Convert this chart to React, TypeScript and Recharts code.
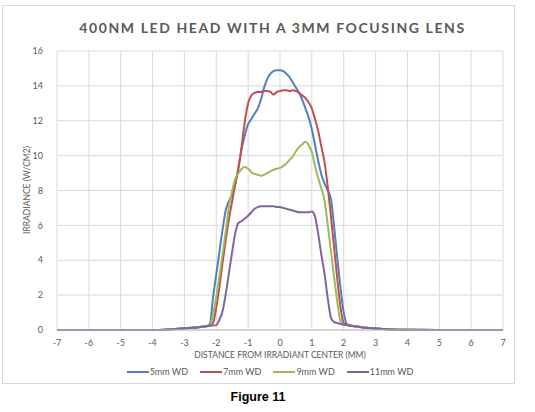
import { LineChart, Line, XAxis, YAxis, CartesianGrid } from 'recharts'

// distance from irradiant centre (mm)
const distances = [
    -7, -6, -5, -4, -3.5, -3, -2.6, -2.4,
    -2.3, -2.2, -2.1, -2.0, -1.9, -1.8, -1.7, -1.6, -1.5, -1.4, -1.3, -1.2, -1.1, -1.0,
    -0.9, -0.8, -0.7, -0.6, -0.5, -0.4, -0.3, -0.2, -0.1, 0,
    0.1, 0.2, 0.3, 0.4, 0.5, 0.6, 0.7, 0.8, 0.9, 1.0,
    1.1, 1.2, 1.3, 1.4, 1.5, 1.6, 1.7, 1.8, 1.9, 2.0, 2.1, 2.2,
    2.4, 2.6, 3, 3.5, 4, 5, 6, 7,
]

// irradiance (W/cm2) per working distance
const wd5 = [
    0, 0, 0, 0, 0.03, 0.1, 0.16, 0.2,
    0.22, 0.35, 1.9, 3.2, 4.5, 5.8, 6.9, 7.4, 7.8, 8.4, 9.4, 10.4, 11.2, 11.8,
    12.1, 12.4, 12.7, 13.2, 13.9, 14.4, 14.7, 14.85, 14.9, 14.9,
    14.85, 14.7, 14.5, 14.2, 13.9, 13.6, 13.2, 12.7, 12.2, 11.5,
    10.6, 9.7, 8.9, 8.4, 8.0, 7.5, 5.9, 4.1, 2.4, 1.0, 0.35, 0.28,
    0.2, 0.15, 0.08, 0.03, 0.01, 0, 0, 0,
]
const wd7 = [
    0, 0, 0, 0, 0.03, 0.1, 0.15, 0.2,
    0.22, 0.25, 0.4, 1.3, 2.5, 3.9, 5.2, 6.4, 7.4, 8.4, 9.3, 10.6, 12.0, 13.0,
    13.45, 13.6, 13.65, 13.65, 13.7, 13.7, 13.65, 13.5, 13.65, 13.7,
    13.75, 13.75, 13.7, 13.75, 13.7, 13.6, 13.45, 13.3, 13.05, 12.7,
    12.1, 11.4, 10.5, 9.6, 8.2, 6.5, 4.7, 2.9, 1.3, 0.4, 0.3, 0.26,
    0.2, 0.15, 0.08, 0.03, 0.01, 0, 0, 0,
]
const wd9 = [
    0, 0, 0, 0, 0.03, 0.1, 0.15, 0.2,
    0.22, 0.28, 0.9, 1.9, 3.1, 4.4, 5.7, 7.1, 8.0, 8.7, 9.0, 9.25, 9.35, 9.25,
    9.05, 8.95, 8.9, 8.85, 8.9, 9.0, 9.1, 9.2, 9.25, 9.3,
    9.4, 9.55, 9.75, 9.95, 10.25, 10.5, 10.65, 10.8, 10.6, 10.2,
    9.4, 8.7, 8.1, 7.4, 6.0, 4.5, 3.0, 1.6, 0.5, 0.3, 0.28, 0.25,
    0.2, 0.15, 0.08, 0.03, 0.01, 0, 0, 0,
]
const wd11 = [
    0, 0, 0, 0, 0.03, 0.1, 0.15, 0.2,
    0.22, 0.24, 0.26, 0.28, 0.6, 1.1, 2.1, 3.3, 4.5, 5.6, 6.15, 6.25, 6.4, 6.55,
    6.75, 6.95, 7.05, 7.1, 7.1, 7.1, 7.1, 7.1, 7.05, 7.05,
    7.0, 6.95, 6.9, 6.85, 6.8, 6.75, 6.75, 6.75, 6.75, 6.8,
    6.5, 5.5, 4.3, 3.2, 1.8, 0.7, 0.45, 0.4, 0.35, 0.3, 0.28, 0.25,
    0.2, 0.15, 0.08, 0.03, 0.01, 0, 0, 0,
]

const xTicks = [-7, -6, -5, -4, -3, -2, -1, 0, 1, 2, 3, 4, 5, 6, 7]
const yTicks = [0, 2, 4, 6, 8, 10, 12, 14, 16]

const series = [
    { key: 'wd5', name: '5mm WD', color: '#4f81bd' },
    { key: 'wd7', name: '7mm WD', color: '#c0504d' },
    { key: 'wd9', name: '9mm WD', color: '#9bbb59' },
    { key: 'wd11', name: '11mm WD', color: '#8064a2' },
]

const data = distances.map((x, i) => ({
    x,
    wd5: wd5[i],
    wd7: wd7[i],
    wd9: wd9[i],
    wd11: wd11[i],
}))

const FONT = 'Lato, "Open Sans", sans-serif'
const TEXT = '#595959'

export default function App() {
    return (
        <div style={{ position: 'fixed', left: 0, top: 0, width: 535, height: 412, background: '#fff' }}>
            <div
                style={{
                    position: 'absolute',
                    left: 2,
                    top: 5,
                    width: 511,
                    height: 377,
                    border: '1px solid #d9d9d9',
                }}
            />
            <div
                style={{
                    position: 'absolute',
                    left: 0,
                    top: 19,
                    width: 545,
                    textAlign: 'center',
                    fontFamily: FONT,
                    fontWeight: 700,
                    fontSize: 14,
                    letterSpacing: 1.6,
                    color: TEXT,
                }}
            >
                400NM LED HEAD WITH A 3MM FOCUSING LENS
            </div>
            <div
                style={{
                    position: 'absolute',
                    left: 0,
                    top: 350,
                    width: 560,
                    textAlign: 'center',
                    fontFamily: FONT,
                    fontSize: 8.5,
                    color: TEXT,
                }}
            >
                DISTANCE FROM IRRADIANT CENTER (MM)
            </div>
            <div
                style={{
                    position: 'absolute',
                    left: 27,
                    top: 190,
                    transform: 'translate(-50%, -50%) rotate(-90deg)',
                    whiteSpace: 'nowrap',
                    fontFamily: FONT,
                    fontSize: 8.5,
                    color: TEXT,
                }}
            >
                IRRADIANCE (W/CM2)
            </div>
            <div
                style={{
                    position: 'absolute',
                    left: 0,
                    top: 366,
                    width: 540,
                    display: 'flex',
                    justifyContent: 'center',
                    gap: 12,
                    fontFamily: FONT,
                    fontSize: 9,
                    color: TEXT,
                }}
            >
                {series.map((s) => (
                    <div key={s.key} style={{ display: 'flex', alignItems: 'center' }}>
                        <svg width={22} height={6} style={{ marginRight: 1 }}>
                            <line x1={0} y1={3} x2={22} y2={3} stroke={s.color} strokeWidth={2} />
                        </svg>
                        <span>{s.name}</span>
                    </div>
                ))}
            </div>
            <div
                style={{
                    position: 'absolute',
                    left: 0,
                    top: 390,
                    width: 516,
                    textAlign: 'center',
                    fontFamily: '"Liberation Sans", Arial, sans-serif',
                    fontWeight: 700,
                    fontSize: 12.5,
                    color: '#000',
                }}
            >
                Figure 11
            </div>
            <div style={{ position: 'absolute', left: 0, top: 0 }}>
                <LineChart
                    width={535}
                    height={412}
                    data={data}
                    margin={{ top: 51, right: 32, left: 27, bottom: 62 }}
                >
                    <CartesianGrid stroke="#d9d9d9" strokeWidth={1} />
                    <XAxis
                        dataKey="x"
                        type="number"
                        domain={[-7, 7]}
                        ticks={xTicks}
                        interval={0}
                        height={20}
                        axisLine={{ stroke: '#bfbfbf' }}
                        tickLine={false}
                        tick={{ fill: TEXT, fontSize: 9, fontFamily: FONT }}
                        tickMargin={4}
                    />
                    <YAxis
                        type="number"
                        domain={[0, 16]}
                        ticks={yTicks}
                        interval={0}
                        width={30}
                        axisLine={false}
                        tickLine={false}
                        tick={{ fill: TEXT, fontSize: 9, fontFamily: FONT }}
                        tickMargin={8}
                    />
                    {series.map((s) => (
                        <Line
                            key={s.key}
                            dataKey={s.key}
                            name={s.name}
                            type="monotone"
                            stroke={s.color}
                            strokeWidth={2}
                            dot={false}
                            isAnimationActive={false}
                        />
                    ))}
                </LineChart>
            </div>
        </div>
    )
}
